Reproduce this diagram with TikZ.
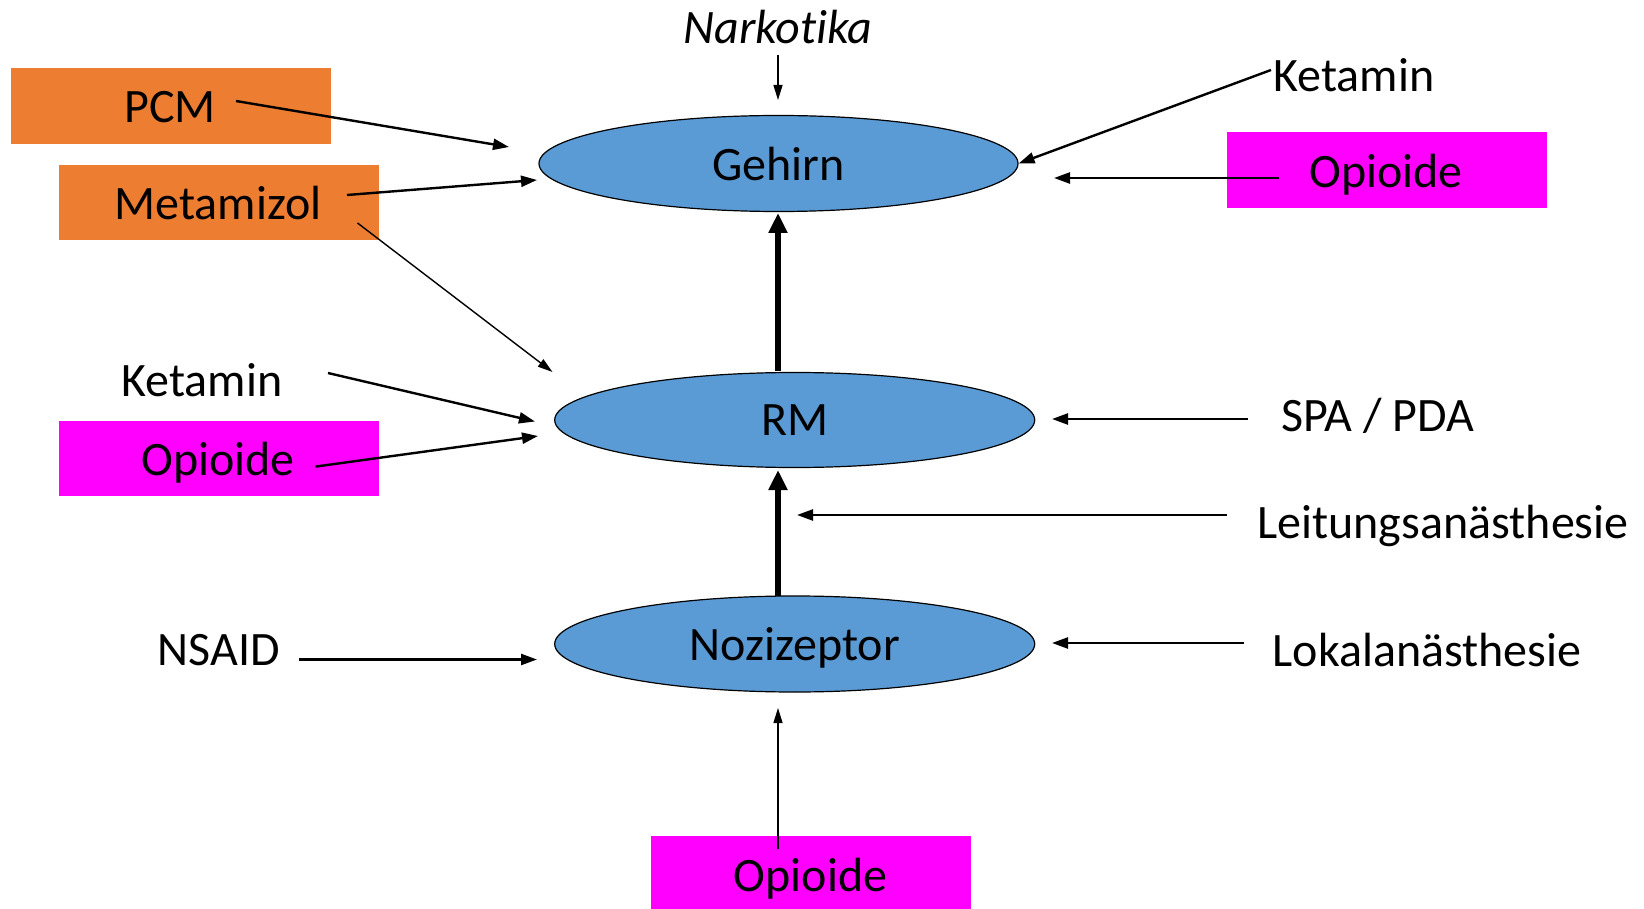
\documentclass[tikz,border=0pt]{standalone}
\usepackage{fontspec}
\setmainfont[Ligatures=NoCommon]{Carlito}
\usetikzlibrary{arrows.meta,shapes.geometric}
\definecolor{ovalblue}{HTML}{5B9BD5}
\definecolor{drugorange}{HTML}{ED7D31}
\definecolor{drugpink}{HTML}{FF00FF}
\begin{document}
\begin{tikzpicture}[x=0.5pt,y=-0.5pt,
  lbl/.style={inner sep=0pt,text depth=0pt,font=\fontsize{24}{28}\selectfont},
  site/.style={ellipse,draw=black,line width=0.6pt,fill=ovalblue,inner sep=0pt},
  thin/.style={line width=0.7pt,-{Triangle[length=7.5pt,width=4.5pt]}},
  med/.style={line width=1.2pt,-{Triangle[length=8pt,width=5.5pt]}},
  thick/.style={line width=2.6pt,-{Triangle[length=10pt,width=9pt]}}]
\useasboundingbox (0,0) rectangle (1644,909);
% target sites
\node[site,minimum width=239.5pt,minimum height=48pt] (geh) at (778.5,163.5) {};
\node[site,minimum width=240pt,minimum height=47.5pt] (rm) at (794.7,420) {};
\node[site,minimum width=240pt,minimum height=48pt] (noz) at (794.7,644) {};
\node[lbl] at (geh.center) {Gehirn};
\node[lbl] at (rm.center) {RM};
\node[lbl] at (noz.center) {Nozizeptor};
% coloured drug boxes
\fill[drugorange] (10.5,68) rectangle (331,144);
\fill[drugorange] (59,165) rectangle (378.5,240);
\fill[drugpink] (1227,132) rectangle (1546.5,207.6);
\fill[drugpink] (59,420.5) rectangle (378.5,496);
\fill[drugpink] (651,835.6) rectangle (971,909);
% labels
\node[lbl,font=\fontsize{24}{28}\selectfont\itshape] (nark) at (778,27) {Narkotika};
\node[lbl] (ketR) at (1354,75) {Ketamin};
\node[lbl] (pcm) at (170,107) {PCM};
\node[lbl] (meta) at (218,203) {Metamizol};
\node[lbl] (opR) at (1386,171) {Opioide};
\node[lbl] (ketL) at (202,380) {Ketamin};
\node[lbl] (opL) at (218,459) {Opioide};
\node[lbl] (spa) at (1378,415) {SPA / PDA};
\node[lbl] (leit) at (1443,522) {Leitungsanästhesie};
\node[lbl] (nsaid) at (219,650) {NSAID};
\node[lbl] (lokal) at (1427,650) {Lokalanästhesie};
\node[lbl] (opB) at (810.5,874.5) {Opioide};
% connector end points
\coordinate (narkA) at (778,55);
\coordinate (narkB) at (778,100);
\coordinate (ketRA) at (1271,70);
\coordinate (pcmA) at (236,101);
\coordinate (pcmB) at (509,147);
\coordinate (metaA) at (347,195);
\coordinate (metaB) at (537,180);
\coordinate (metaC) at (357.5,223);
\coordinate (metaD) at (552.5,372);
\coordinate (opRA) at (1279,178);
\coordinate (opRB) at (1054,178);
\coordinate (ketLA) at (328,373);
\coordinate (ketLB) at (535,421.5);
\coordinate (opLA) at (315.5,466.6);
\coordinate (opLB) at (538,436);
\coordinate (spaA) at (1248,419);
\coordinate (spaB) at (1052,419);
\coordinate (leitA) at (1227,515);
\coordinate (leitB) at (797,515);
\coordinate (nsaidA) at (299,659.5);
\coordinate (nsaidB) at (537,659.5);
\coordinate (lokalA) at (1243.5,643);
\coordinate (lokalB) at (1052,643);
\coordinate (opBA) at (778,849);
\coordinate (opBB) at (778,708);
\coordinate (rmTop) at (778,371);
\coordinate (gehBot) at (778,213);
\coordinate (nozTop) at (778,596);
\coordinate (rmBot) at (778,470);
% connectors
\draw[thin] (narkA) -- (narkB);
\draw[med] (ketRA) -- (geh.east);
\draw[med] (pcmA) -- (pcmB);
\draw[med] (metaA) -- (metaB);
\draw[thin] (metaC) -- (metaD);
\draw[med] (opRA) -- (opRB);
\draw[med] (ketLA) -- (ketLB);
\draw[med] (opLA) -- (opLB);
\draw[med] (spaA) -- (spaB);
\draw[med] (leitA) -- (leitB);
\draw[med] (nsaidA) -- (nsaidB);
\draw[med] (lokalA) -- (lokalB);
\draw[thin] (opBA) -- (opBB);
\draw[thick] (rmTop) -- (gehBot);
\draw[thick] (nozTop) -- (rmBot);
\end{tikzpicture}
\end{document}
